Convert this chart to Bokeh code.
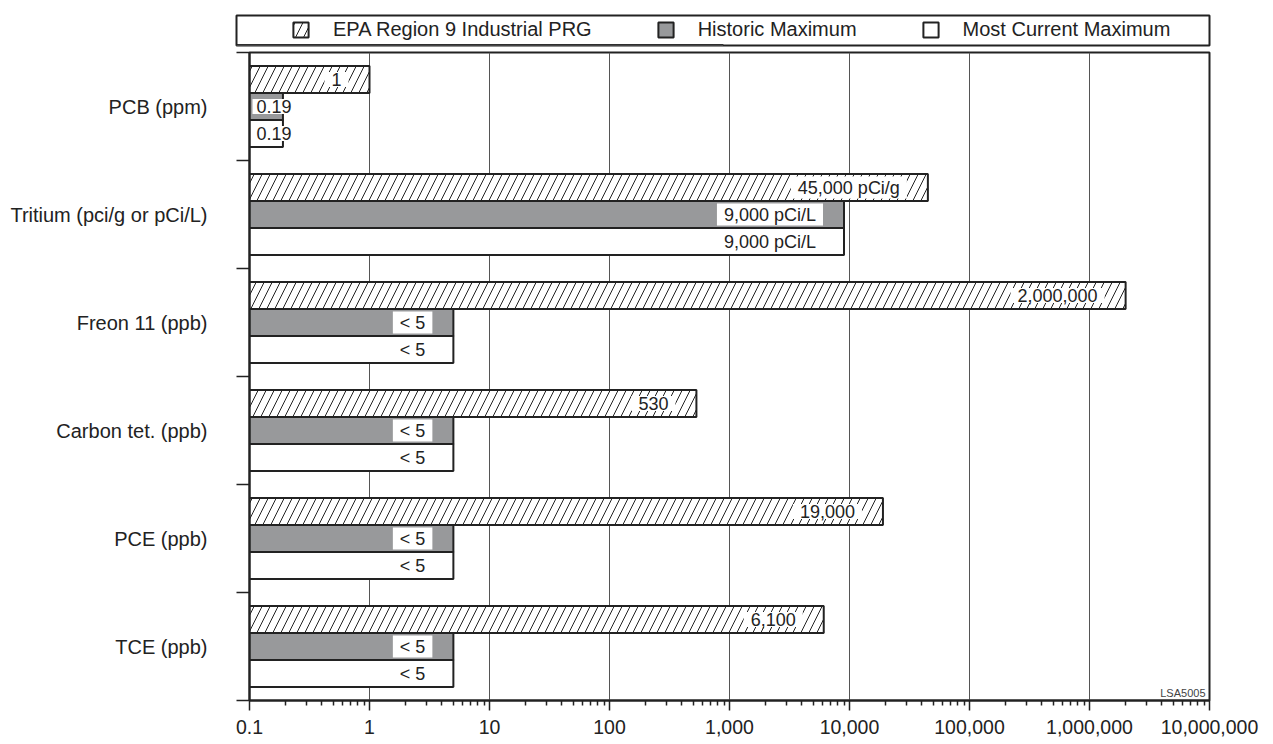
import numpy as np
from bokeh.plotting import figure
from bokeh.models import (FixedTicker, Legend, LegendItem, Label, ColumnDataSource, Range1d)
from bokeh.core.properties import value
from bokeh.embed import file_html
from bokeh.resources import INLINE

# ---------------- data ----------------
categories = ["PCB (ppm)", "Tritium (pci/g or pCi/L)", "Freon 11 (ppb)",
              "Carbon tet. (ppb)", "PCE (ppb)", "TCE (ppb)"]
series_names = ["EPA Region 9 Industrial PRG", "Historic Maximum", "Most Current Maximum"]
prg_values = [1, 45000, 2000000, 530, 19000, 6100]
historic_values = [0.19, 9000, 5, 5, 5, 5]
current_values = [0.19, 9000, 5, 5, 5, 5]
prg_labels = ["1", "45,000 pCi/g", "2,000,000", "530", "19,000", "6,100"]
historic_labels = ["0.19", "9,000 pCi/L", "< 5", "< 5", "< 5", "< 5"]
current_labels = ["0.19", "9,000 pCi/L", "< 5", "< 5", "< 5", "< 5"]
tick_values = [0.1, 1, 10, 100, 1000, 10000, 100000, 1000000, 10000000]
tick_labels = ["0.1", "1", "10", "100", "1,000", "10,000", "100,000", "1,000,000", "10,000,000"]

FONT = "Liberation Sans"
INK = "#222222"
GRAY = "#98999b"

n = len(categories)
centers = [n - 0.5 - i for i in range(n)]
boundaries = list(range(n + 1))

W = 1265

# ---------------- main figure ----------------
p = figure(width=W, height=694, x_axis_type="log", x_range=Range1d(0.1, 1e7),
           y_range=Range1d(0, n), output_backend="svg", toolbar_location=None,
           min_border_left=249, min_border_right=56, min_border_top=4, min_border_bottom=42)
p.outline_line_color = INK
p.outline_line_width = 2
p.background_fill_color = "white"

xticker = FixedTicker(ticks=tick_values,
                      minor_ticks=[d * k for d in tick_values[:-1] for k in range(2, 10)])
p.xaxis.ticker = xticker
p.xaxis.major_label_overrides = {v: s for v, s in zip(tick_values, tick_labels)}
p.xaxis.major_tick_out = 10
p.xaxis.major_tick_in = 0
p.xaxis.minor_tick_out = 5
p.xaxis.minor_tick_in = 0
p.xaxis.major_label_standoff = 9
p.xaxis.major_label_text_font_size = "19.5px"
p.xgrid.ticker = xticker
p.xgrid.grid_line_color = "#555555"
p.xgrid.grid_line_width = 1
p.ygrid.grid_line_color = None

yticker = FixedTicker(ticks=centers, minor_ticks=boundaries)
p.yaxis.ticker = yticker
p.yaxis.major_label_overrides = {c: s for c, s in zip(centers, categories)}
p.yaxis.major_tick_out = 0
p.yaxis.major_tick_in = 0
p.yaxis.minor_tick_out = 13
p.yaxis.minor_tick_in = 0
p.yaxis.major_label_standoff = 29
p.yaxis.major_label_text_font_size = "20px"

for ax in (p.xaxis, p.yaxis):
    ax.axis_line_color = INK
    ax.axis_line_width = 2
    ax.major_tick_line_color = INK
    ax.major_tick_line_width = 1.5
    ax.minor_tick_line_color = INK
    ax.minor_tick_line_width = 1.5
    ax.major_label_text_font = FONT
    ax.major_label_text_color = INK

styles = [
    dict(fill_color="white", hatch_pattern="/", hatch_scale=16, hatch_weight=1, hatch_color=INK),
    dict(fill_color=GRAY),
    dict(fill_color="white"),
]
offsets = [0.25, 0.0, -0.25]
all_values = [prg_values, historic_values, current_values]
all_labels = [prg_labels, historic_labels, current_labels]

for vals, labs, off, st in zip(all_values, all_labels, offsets, styles):
    ys = [c + off for c in centers]
    src = ColumnDataSource(dict(y=ys, value=vals))
    p.hbar(y="y", left=0.1, right="value", height=0.25, source=src,
           line_color=INK, line_width=2, **st)
    big = [(y, v, l) for y, v, l in zip(ys, vals, labs) if v >= 0.5]
    small = [(y, v, l) for y, v, l in zip(ys, vals, labs) if v < 0.5]
    if big:
        sb = ColumnDataSource(dict(y=[b[0] for b in big], x=[b[1] for b in big],
                                   t=[b[2] for b in big]))
        p.text(x="x", y="y", text="t", source=sb, text_align="right", text_baseline="middle",
               x_offset=-21, text_font=value(FONT), text_font_size="18px", text_color=INK,
               background_fill_color="white", padding=(7, 7, 1, 1))
    if small:
        ss = ColumnDataSource(dict(y=[b[0] for b in small], x=[0.1] * len(small),
                                   t=[b[2] for b in small]))
        p.text(x="x", y="y", text="t", source=ss, text_align="left", text_baseline="middle",
               x_offset=3, text_font=value(FONT), text_font_size="18px", text_color=INK,
               background_fill_color="white", padding=(4, 4, 1, 1))

p.add_layout(Label(x=1e7, y=0, x_offset=-4, y_offset=2, text="LSA5005", text_align="right",
                   text_baseline="bottom", text_font=FONT, text_font_size="11px",
                   text_color="#444444"))

# ---------------- legend figure ----------------
lf = figure(width=W, height=48, x_range=Range1d(0, 1), y_range=Range1d(0, 1),
            x_axis_location=None, y_axis_location=None, output_backend="svg",
            toolbar_location=None, min_border_left=236, min_border_right=56,
            min_border_top=15, min_border_bottom=3)
lf.grid.visible = False
lf.outline_line_color = INK
lf.outline_line_width = 2

items = []
for name, st in zip(series_names, styles):
    # legend swatch renderers: one point kept outside the visible range
    r = lf.hbar(y=[-5], right=[0.5], height=0.5, line_color=INK, line_width=2, **st)
    items.append(LegendItem(label=name, renderers=[r]))

leg = Legend(items=items, orientation="horizontal", location=(55, 4), margin=0, padding=0,
             spacing=64, label_standoff=23, glyph_width=19, glyph_height=19,
             border_line_color=None, background_fill_alpha=0,
             label_text_font=FONT, label_text_font_size="20px", label_text_color=INK,
             label_text_baseline="middle")
lf.add_layout(leg, "center")

open("out.html", "w").write(file_html([lf, p], INLINE))
